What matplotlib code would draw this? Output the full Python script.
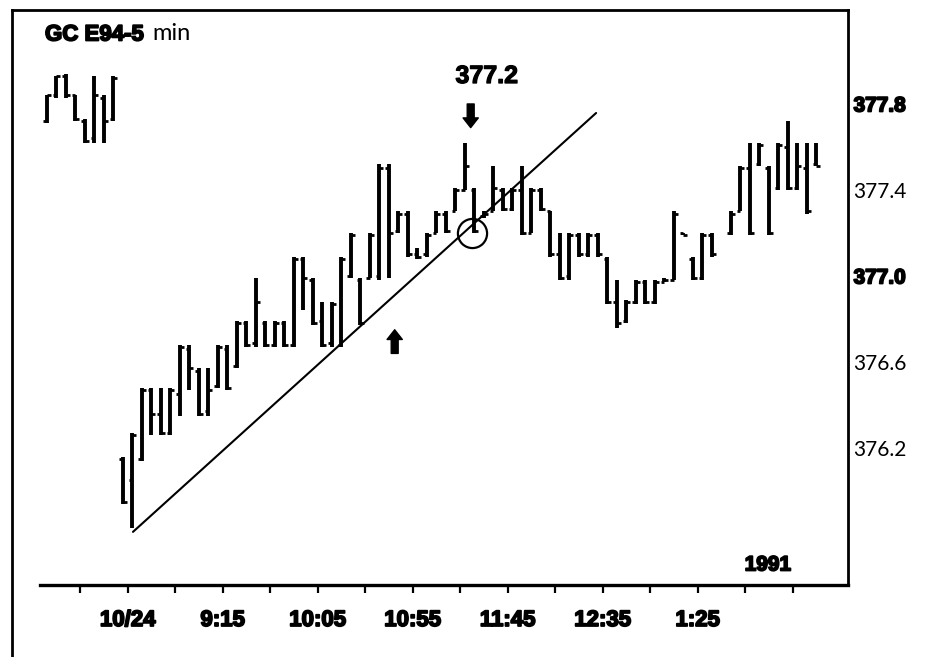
import numpy as np
import matplotlib
matplotlib.use("Agg")
import matplotlib.pyplot as plt
import matplotlib.patheffects as pe
from matplotlib.lines import Line2D

# 5-minute bars: last 8 bars of 10/23 followed by the 10/24 session
highs = [377.84, 377.93, 377.94, 377.84, 377.73, 377.93, 377.84, 377.93,
         376.16, 376.27, 376.48, 376.48, 376.48, 376.48, 376.68, 376.68,
         376.57, 376.57, 376.68, 376.68, 376.79, 376.79, 376.99, 376.79,
         376.79, 376.79, 377.09, 377.09, 376.99, 376.88, 376.88, 377.09,
         377.20, 376.99, 377.20, 377.52, 377.52, 377.30, 377.30, 377.13,
         377.20, 377.30, 377.30, 377.41, 377.62, 377.41, 377.30, 377.51,
         377.41, 377.41, 377.51, 377.41, 377.41, 377.30, 377.20, 377.20,
         377.20, 377.20, 377.20, 377.09, 376.98, 376.89, 376.98, 376.98,
         376.98, 376.99, 377.30, 377.20, 377.09, 377.20, 377.20, np.nan,
         377.30, 377.51, 377.62, 377.62, 377.51, 377.62, 377.72, 377.62,
         377.62, 377.62]
lows = [377.71, 377.83, 377.83, 377.72, 377.62, 377.62, 377.62, 377.72,
        375.94, 375.83, 376.14, 376.26, 376.26, 376.26, 376.35, 376.47,
        376.35, 376.35, 376.48, 376.47, 376.57, 376.67, 376.67, 376.67,
        376.67, 376.67, 376.67, 376.84, 376.77, 376.67, 376.67, 376.67,
        376.99, 376.77, 376.99, 376.98, 376.99, 377.20, 377.09, 377.08,
        377.09, 377.20, 377.20, 377.30, 377.40, 377.20, 377.27, 377.30,
        377.30, 377.30, 377.19, 377.20, 377.30, 377.09, 376.98, 376.98,
        377.09, 377.09, 377.09, 376.87, 376.76, 376.78, 376.87, 376.87,
        376.87, 376.97, 376.98, 377.19, 376.98, 376.98, 377.09, np.nan,
        377.19, 377.30, 377.19, 377.51, 377.19, 377.40, 377.40, 377.40,
        377.29, 377.51]
opens = [377.72, 377.84, 377.93, 377.84, 377.72, 377.64, 377.83, 377.73,
         376.15, 376.05, 376.15, 376.47, 376.36, 376.27, 376.45, 376.66,
         376.56, 376.37, 376.49, 376.66, 376.58, 376.78, 376.69, 376.78,
         376.68, 376.78, 376.68, 377.08, 376.98, 376.79, 376.69, 376.68,
         377.00, 376.98, 376.99, 377.00, 377.50, 377.21, 377.29, 377.10,
         377.10, 377.20, 377.29, 377.30, 377.40, 377.40, 377.28, 377.30,
         377.40, 377.31, 377.40, 377.20, 377.40, 377.30, 377.10, 377.00,
         377.19, 377.10, 377.19, 377.08, 376.88, 376.79, 376.88, 376.97,
         376.88, 376.97, 376.98, 377.20, 377.08, 376.99, 377.19, np.nan,
         377.20, 377.30, 377.50, 377.52, 377.50, 377.41, 377.60, 377.41,
         377.50, 377.52]
closes = [377.84, 377.93, 377.84, 377.73, 377.63, 377.84, 377.72, 377.92,
          375.95, 376.26, 376.47, 376.36, 376.27, 376.47, 376.67, 376.57,
          376.36, 376.47, 376.67, 376.48, 376.78, 376.68, 376.88, 376.68,
          376.78, 376.68, 377.08, 376.99, 376.78, 376.68, 376.87, 377.08,
          377.19, 376.78, 377.19, 377.50, 377.20, 377.29, 377.10, 377.09,
          377.19, 377.29, 377.21, 377.40, 377.51, 377.21, 377.29, 377.41,
          377.31, 377.40, 377.20, 377.40, 377.31, 377.10, 376.99, 377.19,
          377.10, 377.19, 377.10, 376.88, 376.78, 376.88, 376.97, 376.88,
          376.97, 376.98, 377.29, 377.19, 376.99, 377.19, 377.10, np.nan,
          377.29, 377.50, 377.20, 377.61, 377.20, 377.61, 377.41, 377.51,
          377.30, 377.51]

time_ticks = [8.5, 18.5, 28.5, 38.5, 48.5, 58.5, 68.5]
time_labels = ["10/24", "9:15", "10:05", "10:55", "11:45", "12:35", "1:25"]
minor_ticks = [3.5 + 5 * k for k in range(16)]
price_ticks = [377.8, 377.4, 377.0, 376.6, 376.2]
price_labels = ["377.8", "377.4", "377.0", "376.6", "376.2"]
bold_prices = ["377.8", "377.0"]

# trendline drawn under the lows, and the point where it was broken
trend_x = [9.05, 57.8]
trend_y = [375.81, 377.758]
break_x, break_price = 44.7, 377.2

heavy = ["Liberation Sans", "DejaVu Sans"]
light = ["Lato", "DejaVu Sans"]
thick = [pe.withStroke(linewidth=1.3, foreground="black")]

W, H = 939, 657
fig = plt.figure(figsize=(W / 100, H / 100), dpi=100)
ax = fig.add_axes([12 / W, (H - 585) / H, 836 / W, 575 / H])

x = np.arange(len(highs))
ax.vlines(x, lows, highs, color="black", lw=2.8)
ax.hlines(opens, x - 0.38, x, color="black", lw=2.0)
ax.hlines(closes, x, x + 0.38, color="black", lw=2.0)

ax.plot(trend_x, trend_y, color="black", lw=1.5, solid_capstyle="round")
ax.plot([break_x], [break_price], marker="o", ms=21, mfc="none",
        mec="black", mew=1.6)

ax.set_xlim(-3.684, 84.316)
ax.set_ylim(375.563, 378.237)

ax.spines["left"].set_visible(False)
for s in ["top", "right"]:
    ax.spines[s].set_linewidth(2.0)
ax.spines["bottom"].set_linewidth(2.4)
ax.spines["bottom"].set_bounds(-0.74, 84.316)
fig.add_artist(Line2D([12 / W, 12 / W], [0, 1 - 10 / H], color="black",
                      lw=2.0, transform=fig.transFigure))

ax.set_xticks(time_ticks)
ax.set_xticklabels(time_labels, family=heavy, weight="bold", fontsize=16,
                   path_effects=thick)
ax.set_xticks(minor_ticks, minor=True)
ax.tick_params(axis="x", which="both", direction="out", length=6, width=1.6,
               pad=12)

ax.yaxis.tick_right()
ax.set_yticks(price_ticks)
ax.set_yticklabels(price_labels)
ax.tick_params(axis="y", length=0, pad=4)
for lab in ax.get_yticklabels():
    if lab.get_text() in bold_prices:
        lab.set_family(heavy)
        lab.set_weight("bold")
        lab.set_fontsize(15)
        lab.set_path_effects(thick)
    else:
        lab.set_family(light)
        lab.set_fontsize(15)

fig.text(45 / W, 1 - 35 / H, "GC E94-5", family=heavy, weight="bold",
         fontsize=16, va="center", ha="left", path_effects=thick)
fig.text(152 / W, 1 - 34 / H, "min", family=light, fontsize=17,
         va="center", ha="left")
ax.text(46.3, 377.93, "377.2", family=heavy, weight="bold", fontsize=18,
        ha="center", va="center",
        path_effects=[pe.withStroke(linewidth=0.9, foreground="black")])
ax.text(75.9, 375.656, "1991", family=heavy, weight="bold", fontsize=15,
        ha="center", va="center", path_effects=thick)

# arrows above the high and below the trendline
arrow = dict(arrowstyle="simple,head_length=0.7,head_width=1.1,tail_width=0.5",
             color="black", shrinkA=0, shrinkB=0)
ax.annotate("", xy=(44.6, 377.69), xytext=(44.6, 377.80), arrowprops=arrow)
ax.annotate("", xy=(36.6, 376.75), xytext=(36.6, 376.64), arrowprops=arrow)

fig.savefig("out.png", dpi=100)
